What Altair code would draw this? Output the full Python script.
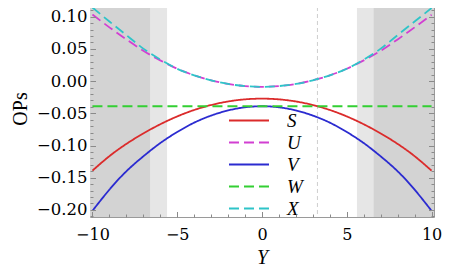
import altair as alt
import pandas as pd

# ---- data ----
Y_VALUES = [-10, -9, -8, -7, -6, -5, -4, -3, -2, -1, 0, 1, 2, 3, 4, 5, 6, 7, 8, 9, 10]
S_VALUES = [-0.1390, -0.1165, -0.0975, -0.0812, -0.0670, -0.0548, -0.0448, -0.0371, -0.0316, -0.0283, -0.0272,
            -0.0283, -0.0316, -0.0371, -0.0448, -0.0548, -0.0670, -0.0812, -0.0975, -0.1165, -0.1390]
U_VALUES = [0.1035, 0.0835, 0.0648, 0.0472, 0.0322, 0.0192, 0.0090, 0.0013, -0.0044, -0.0077, -0.0088,
            -0.0077, -0.0044, 0.0013, 0.0090, 0.0192, 0.0322, 0.0472, 0.0648, 0.0835, 0.1030]
V_VALUES = [-0.2014, -0.1685, -0.1400, -0.1168, -0.0962, -0.0790, -0.0645, -0.0535, -0.0455, -0.0406, -0.0390,
            -0.0406, -0.0455, -0.0535, -0.0645, -0.0790, -0.0962, -0.1168, -0.1400, -0.1685, -0.2014]
W_VALUES = [-0.039] * 21
X_VALUES = [0.1144, 0.0925, 0.0715, 0.0505, 0.0335, 0.0192, 0.0090, 0.0013, -0.0044, -0.0077, -0.0088,
            -0.0077, -0.0044, 0.0013, 0.0090, 0.0192, 0.0335, 0.0505, 0.0715, 0.0925, 0.1135]

SERIES = ["S", "U", "V", "W", "X"]
COLORS = ["#db2b2b", "#d23fd2", "#2b2bd0", "#33cf33", "#2ec4c8"]
DASHES = [[1, 0], [10, 5], [1, 0], [10, 5], [10, 5]]

SHADE_START = [-10.144, -6.57, 5.6, 6.57]
SHADE_END = [-6.57, -5.6, 6.57, 10.144]
SHADE_COLOR = ["#d3d3d3", "#e6e6e6", "#e6e6e6", "#d3d3d3"]

VLINE = [3.27]

X_MAJOR = [-10, -5, 0, 5, 10]
X_MINOR = [-9, -8, -7, -6, -4, -3, -2, -1, 1, 2, 3, 4, 6, 7, 8, 9]
Y_MAJOR = [-0.20, -0.15, -0.10, -0.05, 0.00, 0.05, 0.10]
Y_MINOR = [-0.21, -0.19, -0.18, -0.17, -0.16, -0.14, -0.13, -0.12, -0.11, -0.09, -0.08, -0.07, -0.06,
           -0.04, -0.03, -0.02, -0.01, 0.01, 0.02, 0.03, 0.04, 0.06, 0.07, 0.08, 0.09, 0.11, 0.12]

X_DOMAIN = [-10.144, 10.144]
Y_DOMAIN = [-0.211, 0.126]

W_PLOT, H_PLOT = 344, 217

# ---- tables ----
rows = []
for name, vals in zip(SERIES, [S_VALUES, U_VALUES, V_VALUES, W_VALUES, X_VALUES]):
    for y, v in zip(Y_VALUES, vals):
        rows.append({"series": name, "Y": y, "v": v})
lines_df = pd.DataFrame(rows)
shade_df = pd.DataFrame({"x0": SHADE_START, "x1": SHADE_END, "shade": SHADE_COLOR})
vline_df = pd.DataFrame({"xv": VLINE})

xscale = alt.Scale(domain=X_DOMAIN, nice=False, zero=False)
yscale = alt.Scale(domain=Y_DOMAIN, nice=False, zero=False)

TICK = "#8a8a8a"
MAJ, MIN = 5.5, 3


def tick_axis(orient, values, size, **kw):
    base = dict(orient=orient, values=values, tickSize=size, offset=-size, domain=False,
                grid=False, labels=False, tickColor=TICK, tickWidth=1, title=None, zindex=1)
    base.update(kw)
    return alt.Axis(**base)


ax_bottom = tick_axis("bottom", X_MAJOR, MAJ, labels=True, format="d", labelFont="DejaVu Serif",
                      labelFontSize=16, labelColor="black", labelPadding=9, labelFlush=False,
                      labelOverlap=False, title="Y", titleFont="Liberation Serif",
                      titleFontStyle="italic", titleFontWeight="normal", titleFontSize=20,
                      titleColor="black", titleBaseline="alphabetic", titleY=51.5)
ax_bottom_minor = tick_axis("bottom", X_MINOR, MIN)
ax_top = tick_axis("top", X_MAJOR, MAJ)
ax_top_minor = tick_axis("top", X_MINOR, MIN)
ax_left = tick_axis("left", Y_MAJOR, MAJ, labels=True, format=".2f", labelFont="DejaVu Serif",
                    labelFontSize=16.5, labelColor="black", labelPadding=3, labelFlush=False,
                    labelOverlap=False, title="OPs", titleFont="Liberation Serif",
                    titleFontWeight="normal", titleFontSize=20, titleColor="black",
                    titleAngle=270, titleAlign="center", titleBaseline="alphabetic",
                    titleX=-69.5, titleY=108.5)
ax_left_minor = tick_axis("left", Y_MINOR, MIN)
ax_right = tick_axis("right", Y_MAJOR, MAJ)
ax_right_minor = tick_axis("right", Y_MINOR, MIN)

legend = alt.Legend(orient="none", legendX=138, legendY=111, title=None,
                    symbolType="M-1.7,0H6.3", symbolSize=100, symbolStrokeWidth=2,
                    labelFont="Liberation Serif", labelFontStyle="italic", labelFontSize=19,
                    labelColor="black", labelOffset=40, rowPadding=2, padding=0)

shade = alt.Chart(shade_df).mark_rect().encode(
    x=alt.X("x0:Q", scale=xscale, axis=ax_bottom),
    x2="x1:Q",
    y=alt.value(0),
    y2=alt.value(H_PLOT),
    color=alt.Color("shade:N", scale=None),
)

vline = alt.Chart(vline_df).mark_rule(color="#cfcfcf", strokeDash=[4, 3], strokeWidth=1).encode(
    x=alt.X("xv:Q", scale=xscale, axis=ax_bottom_minor),
)

lines = alt.Chart(lines_df).mark_line(strokeWidth=1.8, interpolate="natural").encode(
    x=alt.X("Y:Q", scale=xscale, axis=ax_top),
    y=alt.Y("v:Q", scale=yscale, axis=ax_left),
    color=alt.Color("series:N", scale=alt.Scale(domain=SERIES, range=COLORS), legend=legend),
    strokeDash=alt.StrokeDash("series:N", scale=alt.Scale(domain=SERIES, range=DASHES), legend=legend),
)

ghost1 = alt.Chart(lines_df).mark_point(opacity=0).encode(
    x=alt.X("Y:Q", scale=xscale, axis=ax_top_minor),
    y=alt.Y("v:Q", scale=yscale, axis=ax_left_minor),
)
ghost2 = alt.Chart(lines_df).mark_point(opacity=0).encode(
    x=alt.X("Y:Q", scale=xscale, axis=None),
    y=alt.Y("v:Q", scale=yscale, axis=ax_right),
)
ghost3 = alt.Chart(lines_df).mark_point(opacity=0).encode(
    x=alt.X("Y:Q", scale=xscale, axis=None),
    y=alt.Y("v:Q", scale=yscale, axis=ax_right_minor),
)

chart = alt.layer(shade, vline, lines, ghost1, ghost2, ghost3).resolve_axis(
    x="independent", y="independent"
).properties(
    width=W_PLOT, height=H_PLOT,
    padding={"left": 82, "top": -8, "right": 8, "bottom": 50},
    autosize=alt.AutoSizeParams(type="none"),
).configure_view(stroke="#9a9a9a", strokeWidth=1)

chart.save("out.html", embed_options={"renderer": "svg", "actions": False})
